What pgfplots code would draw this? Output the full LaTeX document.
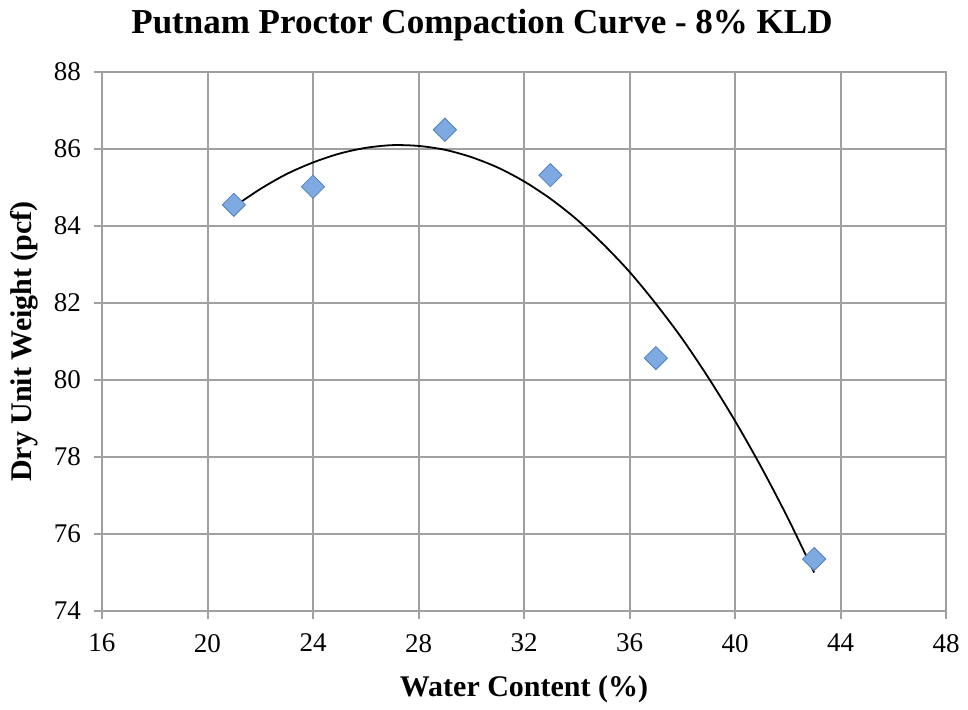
\documentclass[border=0pt]{standalone}
\usepackage{pgfplots}
\pgfplotsset{compat=1.18}
\usepackage{fontspec}
\setmainfont{Liberation Serif}
\definecolor{gridgray}{HTML}{A0A0A0}
\definecolor{mkfill}{HTML}{7EA9E1}
\definecolor{mkdraw}{HTML}{4F81BD}

\begin{document}
\begin{tikzpicture}
\begin{axis}[
    scale only axis,
    width=422pt, height=269.5pt,
    xmin=16, xmax=48, ymin=74, ymax=88,
    xtick={16,20,...,48}, ytick={74,76,...,88},
    grid=major,
    major grid style={gridgray, line width=1pt},
    axis line style={gridgray, line width=1pt},
    tick style={gridgray, line width=1pt},
    tick align=outside,
    major tick length=4pt,
    xtick pos=bottom, ytick pos=left,
    /pgf/number format/assume math mode=true,
    ticklabel style={font=\fontsize{13.5}{15}\selectfont},
    xticklabel style={yshift=-4pt},
    yticklabel style={xshift=-3pt},
    xlabel={\textbf{Water Content (\%)}},
    ylabel={\textbf{Dry Unit Weight (pcf)}},
    label style={font=\fontsize{15}{17}\selectfont},
    xlabel style={yshift=-5pt},
    ylabel style={yshift=1pt},
    title={\textbf{Putnam Proctor Compaction Curve - 8\% KLD}},
    title style={font=\fontsize{17.5}{19}\selectfont, yshift=6pt, xshift=-21pt},
    clip=false,
]
% polynomial trendline (sampled)
\addplot[black, line width=0.9pt, smooth, no marks] coordinates {
    (21,84.50) (22,84.96) (23,85.35) (24,85.65) (25,85.88) (26,86.03)
    (27,86.10) (28,86.08) (29,85.98) (30,85.79) (31,85.52) (32,85.16)
    (33,84.71) (34,84.17) (35,83.53) (36,82.81) (37,81.98) (38,81.07)
    (39,80.05) (40,78.94) (41,77.73) (42,76.42) (43,75.00)
};
% measured points
\addplot[only marks, mark=square*, mark size=4.1pt,
    mark options={rotate=45, fill=mkfill, draw=mkdraw, line width=0.4pt}]
    coordinates {
    (21,84.55) (24,85.02) (29,86.50) (33,85.32) (37,80.57) (43,75.35)
};
\end{axis}
\path (-51pt,-46.5pt) rectangle (433pt,305.5pt);
\end{tikzpicture}
\end{document}
